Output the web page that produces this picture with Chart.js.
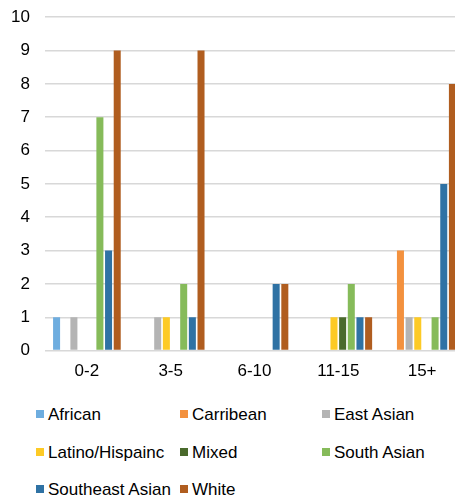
<!DOCTYPE html>
<html>
<head>
<meta charset="utf-8">
<script src="https://cdn.jsdelivr.net/npm/chart.js@4"></script>
<style>
    html, body { margin: 0; padding: 0; background: #fff; overflow: hidden; }
    #wrap { position: relative; width: 455px; height: 501px; overflow: hidden; }
    #chartBox { position: absolute; left: 0; top: -8px; width: 464px; height: 401px; }
    .legend-item { position: absolute; height: 20px; line-height: 20px; font: 17px "Liberation Sans", Arial, sans-serif; color: #000; white-space: nowrap; }
    .legend-box { position: absolute; left: 0; top: 5px; width: 8px; height: 8px; }
    .legend-text { position: absolute; left: 12px; top: 0; }
</style>
</head>
<body>
<div id="wrap">
    <div id="chartBox"><canvas id="chartCanvas"></canvas></div>
    <div id="legend"></div>
</div>
<script>
const categories = ['0-2', '3-5', '6-10', '11-15', '15+'];

const seriesNames = ['African', 'Carribean', 'East Asian', 'Latino/Hispainc', 'Mixed', 'South Asian', 'Southeast Asian', 'White'];

const african = [1, 0, 0, 0, 0];
const carribean = [0, 0, 0, 0, 3];
const eastAsian = [1, 1, 0, 0, 1];
const latino = [0, 1, 0, 1, 1];
const mixed = [0, 0, 0, 1, 0];
const southAsian = [7, 2, 0, 2, 1];
const southeastAsian = [3, 1, 2, 1, 5];
const white = [9, 9, 2, 1, 8];

const yTicks = [0, 1, 2, 3, 4, 5, 6, 7, 8, 9, 10];

const colors = ['#6eaddf', '#f3913e', '#b4b4b4', '#fdca25', '#4a6a2c', '#86bb5a', '#2f72a4', '#b05d1f'];

const seriesValues = [african, carribean, eastAsian, latino, mixed, southAsian, southeastAsian, white];

const textColor = '#000';
const fontFamily = '"Liberation Sans", Arial, sans-serif';

const ctx = document.getElementById('chartCanvas').getContext('2d');

const chart = new Chart(ctx, {
    type: 'bar',
    data: {
        labels: categories,
        datasets: seriesNames.map((name, i) => ({
            label: name,
            data: seriesValues[i],
            backgroundColor: colors[i],
            borderWidth: 0,
            categoryPercentage: 0.827,
            barPercentage: 0.81
        }))
    },
    options: {
        responsive: true,
        maintainAspectRatio: false,
        animation: false,
        layout: { padding: { top: 8, right: 0, bottom: 0, left: 0 } },
        plugins: {
            legend: { display: false },
            tooltip: { enabled: false }
        },
        scales: {
            x: {
                grid: { display: false, drawTicks: false },
                border: { display: false },
                ticks: {
                    color: textColor,
                    font: { family: fontFamily, size: 17 },
                    padding: 11,
                    maxRotation: 0
                }
            },
            y: {
                min: 0,
                max: 10,
                afterFit: function(scale) { scale.width = 45; },
                afterBuildTicks: function(scale) { scale.ticks = yTicks.map(v => ({ value: v })); },
                grid: { color: '#d8d8d8', lineWidth: 1.5, drawTicks: false },
                border: { display: false },
                ticks: {
                    color: textColor,
                    font: { family: fontFamily, size: 17 },
                    padding: 15
                }
            }
        }
    }
});

// legend in three fixed columns, like the original
const colBox = [36, 180, 322];
const rowTop = [405, 443, 480];
const legendEl = document.getElementById('legend');
chart.data.datasets.forEach((ds, i) => {
    const item = document.createElement('div');
    item.className = 'legend-item';
    item.style.left = colBox[i % 3] + 'px';
    item.style.top = rowTop[Math.floor(i / 3)] + 'px';
    const box = document.createElement('span');
    box.className = 'legend-box';
    box.style.background = ds.backgroundColor;
    const txt = document.createElement('span');
    txt.className = 'legend-text';
    txt.innerText = ds.label;
    item.appendChild(box);
    item.appendChild(txt);
    legendEl.appendChild(item);
});
</script>
</body>
</html>
